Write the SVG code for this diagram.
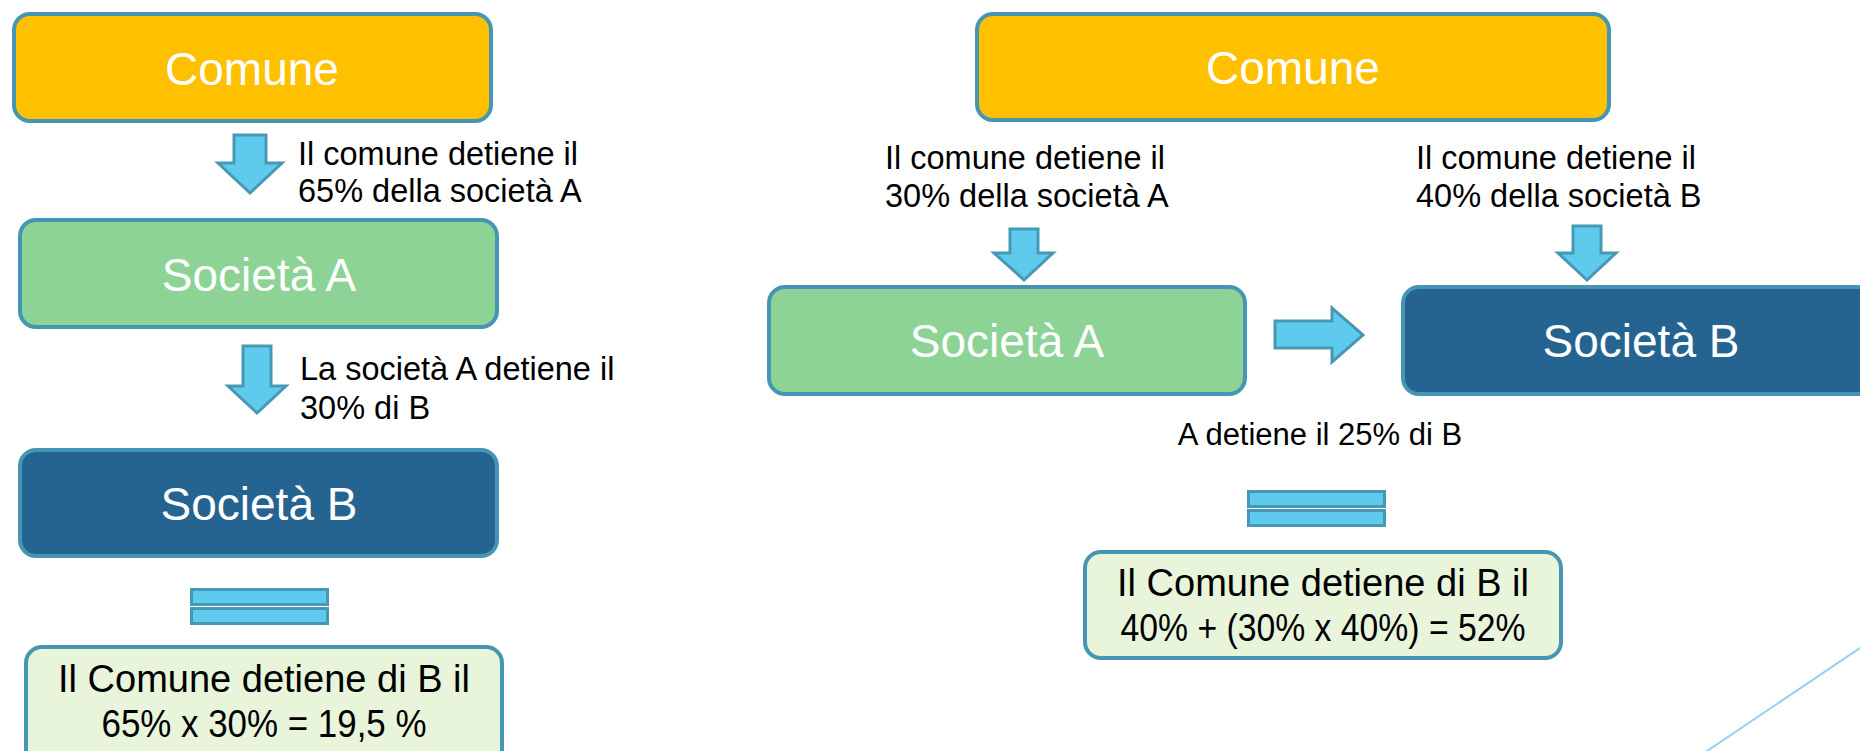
<svg xmlns="http://www.w3.org/2000/svg" width="1860" height="751" viewBox="0 0 1860 751">
<style>
.box{stroke:#4596b4;stroke-width:4}
.comune{fill:#FFC000}
.socA{fill:#8CD395}
.socB{fill:#256490}
.res{fill:#E8F5DA}
.title{font-family:"Liberation Sans",Arial,sans-serif;font-size:46px;fill:#FFFFFF;text-anchor:middle}
.lbl{font-family:"Liberation Sans",Arial,sans-serif;font-size:32.5px;fill:#000000}
.rt{font-family:"Liberation Sans",Arial,sans-serif;font-size:38px;fill:#000000;text-anchor:middle}
.arr{fill:#5ECBEE;stroke:#4898B4;stroke-width:3}
.eq{fill:#5ECBEE;stroke:#4898B4;stroke-width:3}
</style>
<rect width="1860" height="751" fill="#FFFFFF"/>
<line x1="1880" y1="634.5" x2="1690" y2="762.5" stroke="#8ED4EF" stroke-width="2"/>

<g id="left-comune">
<rect class="box comune" x="14" y="14" width="477" height="107" rx="16"/>
<text class="title" x="252" y="85">Comune</text>
</g>
<g id="left-societa-a">
<rect class="box socA" x="20" y="220" width="477" height="107" rx="16"/>
<text class="title" x="259" y="291">Società A</text>
</g>
<g id="left-societa-b">
<rect class="box socB" x="20" y="450" width="477" height="106" rx="16"/>
<text class="title" x="259" y="520">Società B</text>
</g>
<g id="left-result">
<rect class="box res" x="26" y="647" width="476" height="130" rx="16"/>
<text class="rt" x="264" y="692">Il Comune detiene di B il</text>
<text class="rt" x="264" y="737" textLength="325" lengthAdjust="spacingAndGlyphs">65% x 30% = 19,5 %</text>
</g>

<g id="right-comune">
<rect class="box comune" x="977" y="14" width="632" height="106" rx="16"/>
<text class="title" x="1293" y="84">Comune</text>
</g>
<g id="right-societa-a">
<rect class="box socA" x="769" y="287" width="476" height="107" rx="16"/>
<text class="title" x="1007" y="357">Società A</text>
</g>
<g id="right-societa-b">
<rect class="box socB" x="1403" y="287" width="476" height="107" rx="16"/>
<text class="title" x="1641" y="357">Società B</text>
</g>
<g id="right-result">
<rect class="box res" x="1085" y="552" width="476" height="106" rx="16"/>
<text class="rt" x="1323" y="596">Il Comune detiene di B il</text>
<text class="rt" x="1323" y="641" textLength="405" lengthAdjust="spacingAndGlyphs">40% + (30% x 40%) = 52%</text>
</g>

<g id="connectors">
<polygon class="arr" points="234,135 266,135 266,163 282,163 250,193 218,163 234,163"/>
<polygon class="arr" points="243,346 271,346 271,386 286,386 257,413 228,386 243,386"/>
<polygon class="arr" points="1010,229 1038,229 1038,253 1053,253 1024,280 994,253 1010,253"/>
<polygon class="arr" points="1573,226 1601,226 1601,253 1616,253 1587,280 1558,253 1573,253"/>
<polygon class="arr" points="1275,321 1332,321 1332,308 1363,335 1332,362 1332,348 1275,348"/>
<rect class="eq" x="191.5" y="589.5" width="136" height="15"/>
<rect class="eq" x="191.5" y="608.5" width="136" height="15"/>
<rect class="eq" x="1248.5" y="491.5" width="136" height="15"/>
<rect class="eq" x="1248.5" y="510.5" width="136" height="15"/>
</g>

<g id="labels">
<text class="lbl" x="298" y="165">Il comune detiene il</text>
<text class="lbl" x="298" y="202">65% della società A</text>
<text class="lbl" x="300" y="380">La società A detiene il</text>
<text class="lbl" x="300" y="419">30% di B</text>
<text class="lbl" x="885" y="169">Il comune detiene il</text>
<text class="lbl" x="885" y="207">30% della società A</text>
<text class="lbl" x="1416" y="169">Il comune detiene il</text>
<text class="lbl" x="1416" y="207">40% della società B</text>
<text class="lbl" x="1320" y="445" text-anchor="middle" style="font-size:31px">A detiene il 25% di B</text>
</g>
</svg>
